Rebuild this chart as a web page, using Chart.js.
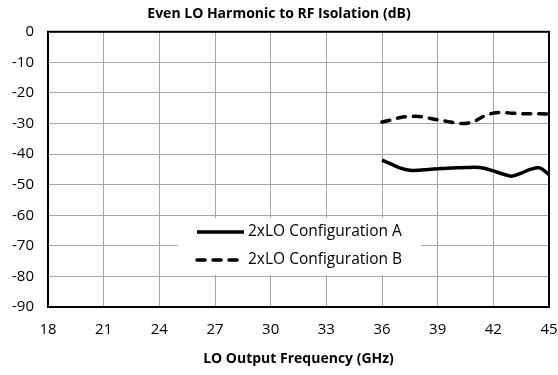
<!DOCTYPE html>
<html>
<head>
<meta charset="utf-8">
<script src="https://cdn.jsdelivr.net/npm/chart.js@4.4.0/dist/chart.umd.min.js"></script>
<style>
  html, body { margin: 0; padding: 0; background: #fff; }
  #wrap { width: 558px; height: 375px; }
</style>
</head>
<body>
<div id="wrap"><canvas id="chart"></canvas></div>
<script>
// LO output frequency (GHz)
const freqs = [36, 36.5, 37, 37.5, 38, 38.5, 39, 39.5, 40, 40.5, 41, 41.5, 42, 42.5, 43, 43.5, 44, 44.5, 45];

// Isolation (dB)
const configA = [-42.0, -43.3, -44.6, -45.3, -45.3, -45.0, -44.8, -44.6, -44.5, -44.4, -44.3, -44.6, -45.5, -46.5, -47.2, -46.2, -45.0, -44.5, -46.7];
const configB = [-29.5, -28.8, -28.0, -27.7, -27.7, -28.2, -28.8, -29.3, -29.8, -30.0, -29.2, -27.6, -26.6, -26.4, -26.6, -26.8, -26.8, -26.8, -26.9];

const seriesNames = ['2xLO Configuration A', '2xLO Configuration B'];

const xTicks = [18, 21, 24, 27, 30, 33, 36, 39, 42, 45];
const yTicks = [0, -10, -20, -30, -40, -50, -60, -70, -80, -90];

Chart.defaults.font.family = "'Open Sans', sans-serif";
Chart.defaults.color = '#000';

function toPoints(xs, ys) {
    return xs.map((x, i) => ({ x: x, y: ys[i] }));
}

// Frame around the plot area plus a legend box sitting inside it
const framePlugin = {
    id: 'frameAndLegend',
    afterDatasetsDraw(chart) {
        const ctx = chart.ctx;
        const a = chart.chartArea;
        ctx.save();
        ctx.strokeStyle = '#000';
        ctx.lineWidth = 2;
        ctx.strokeRect(a.left, a.top, a.right - a.left, a.bottom - a.top);

        // legend
        const bx = 178, by = 218, bw = 243, bh = 57;
        ctx.fillStyle = '#fff';
        ctx.fillRect(bx, by, bw, bh);
        ctx.font = "15.5px 'Open Sans', sans-serif";
        ctx.textBaseline = 'middle';
        ctx.fillStyle = '#000';
        chart.data.datasets.forEach((ds, i) => {
            const y = by + 14 + i * 28;
            ctx.beginPath();
            ctx.lineWidth = ds.borderWidth;
            ctx.lineCap = ds.borderCapStyle || 'butt';
            ctx.setLineDash(ds.borderDash || []);
            ctx.strokeStyle = ds.borderColor;
            ctx.moveTo(197, y);
            ctx.lineTo(244, y);
            ctx.stroke();
            ctx.setLineDash([]);
            ctx.fillText(ds.label, 248, y);
        });
        ctx.restore();
    }
};

const ctx = document.getElementById('chart').getContext('2d');
const chart = new Chart(ctx, {
    type: 'line',
    data: {
        datasets: [
            {
                label: seriesNames[0],
                data: toPoints(freqs, configA),
                borderColor: '#000',
                borderWidth: 3.5,
                pointRadius: 0,
                tension: 0.35,
                fill: false
            },
            {
                label: seriesNames[1],
                data: toPoints(freqs, configB),
                borderColor: '#000',
                borderWidth: 3.5,
                borderDash: [8, 8],
                borderCapStyle: 'round',
                pointRadius: 0,
                tension: 0.35,
                fill: false
            }
        ]
    },
    options: {
        responsive: true,
        maintainAspectRatio: false,
        animation: false,
        layout: { padding: 0 },
        plugins: {
            legend: { display: false },
            tooltip: { enabled: false },
            title: {
                display: true,
                text: 'Even LO Harmonic to RF Isolation (dB)',
                font: { size: 14, weight: 'bold' },
                color: '#000',
                padding: { top: 6, bottom: 9 }
            }
        },
        scales: {
            x: {
                type: 'linear',
                min: 18,
                max: 45,
                afterBuildTicks: (scale) => { scale.ticks = xTicks.map(v => ({ value: v })); },
                afterFit: (scale) => {
                    scale.height = 68;
                    scale.paddingLeft = 0;
                    scale.paddingRight = 9;
                },
                grid: { color: '#a6a6a6', lineWidth: 1, drawTicks: false },
                border: { display: false },
                ticks: { font: { size: 15 }, padding: 14, maxRotation: 0 },
                title: {
                    display: true,
                    text: 'LO Output Frequency (GHz)',
                    font: { size: 14, weight: 'bold' },
                    padding: { top: 0, bottom: 8 }
                }
            },
            y: {
                min: -90,
                max: 0,
                afterBuildTicks: (scale) => { scale.ticks = yTicks.map(v => ({ value: v })); },
                afterFit: (scale) => { scale.width = 48; },
                grid: { color: '#a6a6a6', lineWidth: 1, drawTicks: false },
                border: { display: false },
                ticks: { font: { size: 15 }, padding: 14 }
            }
        }
    },
    plugins: [framePlugin]
});
</script>
</body>
</html>
